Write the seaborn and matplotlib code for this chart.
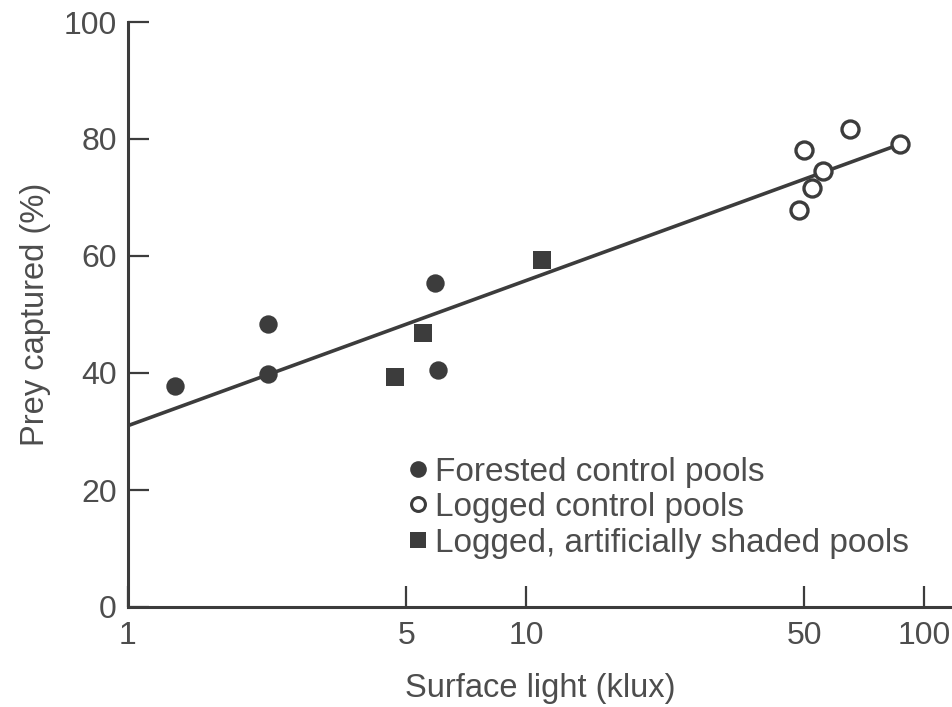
import numpy as np
import pandas as pd
import matplotlib
matplotlib.use("Agg")
import matplotlib.pyplot as plt
from matplotlib.lines import Line2D
from matplotlib.ticker import FixedLocator, FixedFormatter, NullLocator
import seaborn as sns

# ---- data ----
forested_x = [1.31, 2.25, 2.25, 5.9, 6.0]
forested_y = [37.8, 48.4, 39.8, 55.4, 40.5]

logged_x = [50.0, 65.0, 55.8, 52.4, 48.6, 87.0]
logged_y = [78.1, 81.7, 74.5, 71.6, 67.9, 79.1]

shaded_x = [4.7, 5.5, 11.0]
shaded_y = [39.3, 46.8, 59.3]

fit_x = [1.0, 87.0]
fit_y = [31.0, 79.1]

x_ticks = [1, 5, 10, 50, 100]
x_tick_labels = ["1", "5", "10", "50", "100"]
y_ticks = [0, 20, 40, 60, 80, 100]
y_tick_labels = ["0", "20", "40", "60", "80", "100"]

legend_labels = ["Forested control pools", "Logged control pools",
                 "Logged, artificially shaded pools"]

sns.set_style("ticks")
plt.rcParams['font.family'] = ['Liberation Sans', 'DejaVu Sans']

INK = "#3c3c3c"
TXT = "#4d4d4d"

fig = plt.figure(figsize=(9.53, 7.07), dpi=100)
ax = fig.add_axes([128 / 953, 100 / 707, 824 / 953, 585 / 707])

df_f = pd.DataFrame({"x": forested_x, "y": forested_y})
df_l = pd.DataFrame({"x": logged_x, "y": logged_y})
df_s = pd.DataFrame({"x": shaded_x, "y": shaded_y})
df_fit = pd.DataFrame({"x": fit_x, "y": fit_y})

sns.lineplot(data=df_fit, x="x", y="y", ax=ax, color=INK, lw=2.6, zorder=2)
sns.scatterplot(data=df_f, x="x", y="y", ax=ax, marker="o", s=175,
                color=INK, edgecolor=INK, linewidth=0, zorder=3, clip_on=False)
sns.scatterplot(data=df_s, x="x", y="y", ax=ax, marker="s", s=175,
                color=INK, edgecolor=INK, linewidth=0, zorder=3, clip_on=False)
sns.scatterplot(data=df_l, x="x", y="y", ax=ax, marker="o", s=150,
                facecolor="white", edgecolor=INK, linewidth=2.4, zorder=4, clip_on=False)

ax.set_xscale("log")
ax.set_xlim(1, 117.6)
ax.set_ylim(0, 100)

ax.xaxis.set_major_locator(FixedLocator(x_ticks))
ax.xaxis.set_major_formatter(FixedFormatter(x_tick_labels))
ax.xaxis.set_minor_locator(NullLocator())
ax.yaxis.set_major_locator(FixedLocator(y_ticks))
ax.yaxis.set_major_formatter(FixedFormatter(y_tick_labels))

ax.tick_params(axis="both", direction="in", length=15, width=1.6, color=INK,
               labelsize=23, labelcolor=TXT, pad=8)
ax.tick_params(axis="x", pad=10)

for side in ["top", "right"]:
    ax.spines[side].set_visible(False)
for side in ["left", "bottom"]:
    ax.spines[side].set_color(INK)
    ax.spines[side].set_linewidth(2.2)

ax.set_xlabel("Surface light (klux)", fontsize=23.5, color=TXT, labelpad=16)
ax.set_ylabel("Prey captured (%)", fontsize=23.5, color=TXT, labelpad=9)

handles = [
    Line2D([], [], ls="", marker="o", markersize=12, color=INK, markeredgewidth=0),
    Line2D([], [], ls="", marker="o", markersize=10, markerfacecolor="white",
           markeredgecolor=INK, markeredgewidth=2.2),
    Line2D([], [], ls="", marker="s", markersize=12, color=INK, markeredgewidth=0),
]
leg = ax.legend(handles, legend_labels, loc="upper left",
                bbox_to_anchor=(0.337, 0.257), frameon=False, fontsize=24,
                handlelength=0.75, handletextpad=0.12, labelspacing=0.135,
                borderpad=0, borderaxespad=0)
for t in leg.get_texts():
    t.set_color(TXT)

fig.savefig("out.png", dpi=100, facecolor="white")
